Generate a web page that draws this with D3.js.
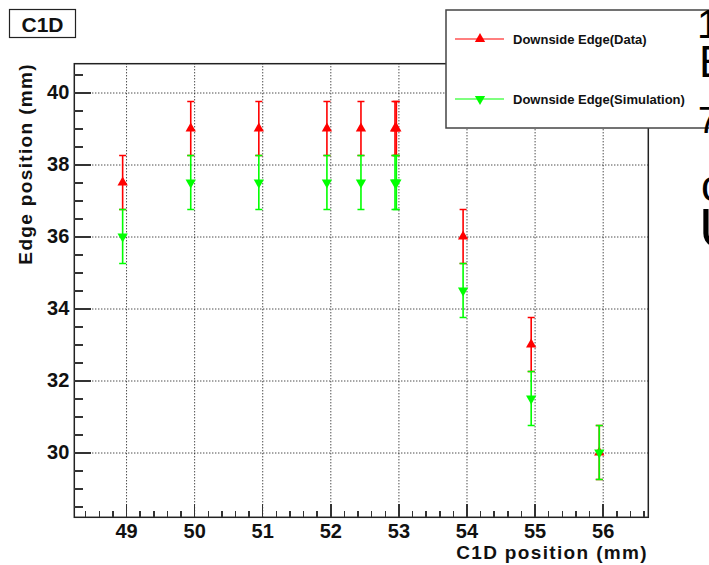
<!DOCTYPE html>
<html>
<head>
  <meta charset="utf-8">
  <script src="https://d3js.org/d3.v7.min.js"></script>
  <style>
    body { margin: 0; background: #fff; }
    svg { display: block; }
    text { font-family: "Liberation Sans", Arial, sans-serif; font-weight: bold; fill: #111; }
    .axis path, .axis line { stroke: #333; stroke-width: 1.5px; shape-rendering: crispEdges; }
    .axis text { font-size: 20px; }
    .grid line { stroke: #000; stroke-width: 1px; stroke-dasharray: 1,2; }
    .grid path { display: none; }
    .title { font-size: 19px; letter-spacing: 1.35px; }
  </style>
</head>
<body>
<div id="plot"></div>
<script>
// C1D scan: downside edge position vs C1D position
var xPos     = [48.95, 49.95, 50.95, 51.95, 52.45, 52.95, 52.97, 53.95, 54.95, 55.95];
var edgeData = [37.5, 39, 39, 39, 39, 39, 39, 36, 33, 30];
var edgeSim  = [36, 37.5, 37.5, 37.5, 37.5, 37.5, 37.5, 34.5, 31.5, 30];
var errData  = [0.75, 0.75, 0.75, 0.75, 0.75, 0.75, 0.75, 0.75, 0.75, 0.75];
var errSim   = [0.75, 0.75, 0.75, 0.75, 0.75, 0.75, 0.75, 0.75, 0.75, 0.75];

var xMajor = [49, 50, 51, 52, 53, 54, 55, 56];
var yMajor = [30, 32, 34, 36, 38, 40];
var seriesNames = ["Downside Edge(Data)", "Downside Edge(Simulation)"];

var W = 709, H = 565;
var frame = {left: 74.3, right: 648.3, top: 63.7, bottom: 517.3};

var svg = d3.select('#plot').append('svg')
  .attr('width', W).attr('height', H);

var x = d3.scaleLinear().domain([48.24, 56.67]).range([frame.left, frame.right]);
var y = d3.scaleLinear().domain([28.2, 40.8]).range([frame.bottom, frame.top]);

var xMinor = d3.range(48.4, 56.7, 0.2).map(function(v){ return +v.toFixed(1); })
  .filter(function(v){ return xMajor.indexOf(v) < 0; });
var yMinor = d3.range(28.5, 40.6, 0.5)
  .filter(function(v){ return yMajor.indexOf(v) < 0; });

// grid
svg.append('g').attr('class', 'grid')
  .attr('transform', 'translate(0,' + frame.bottom + ')')
  .call(d3.axisBottom(x).tickValues(xMajor).tickSize(-(frame.bottom - frame.top)).tickFormat(''));
svg.append('g').attr('class', 'grid')
  .attr('transform', 'translate(' + frame.left + ',0)')
  .call(d3.axisLeft(y).tickValues(yMajor).tickSize(-(frame.right - frame.left)).tickFormat(''));

// frame
svg.append('rect')
  .attr('x', frame.left).attr('y', frame.top)
  .attr('width', frame.right - frame.left).attr('height', frame.bottom - frame.top)
  .attr('fill', 'none').attr('stroke', '#222').attr('stroke-width', 1.5);

// axes (ticks pointing into the frame)
svg.append('g').attr('class', 'x axis')
  .attr('transform', 'translate(0,' + frame.bottom + ')')
  .call(d3.axisBottom(x).tickValues(xMajor).tickSizeInner(-13).tickSizeOuter(0).tickPadding(7))
  .call(function(g){ g.select('.domain').remove(); });
svg.append('g').attr('class', 'x axis')
  .attr('transform', 'translate(0,' + frame.bottom + ')')
  .call(d3.axisBottom(x).tickValues(xMinor).tickSizeInner(-6.5).tickSizeOuter(0).tickFormat(''))
  .call(function(g){ g.select('.domain').remove(); });

svg.append('g').attr('class', 'y axis')
  .attr('transform', 'translate(' + frame.left + ',0)')
  .call(d3.axisLeft(y).tickValues(yMajor).tickSizeInner(-17).tickSizeOuter(0).tickPadding(5))
  .call(function(g){ g.select('.domain').remove(); });
svg.append('g').attr('class', 'y axis')
  .attr('transform', 'translate(' + frame.left + ',0)')
  .call(d3.axisLeft(y).tickValues(yMinor).tickSizeInner(-9).tickSizeOuter(0).tickFormat(''))
  .call(function(g){ g.select('.domain').remove(); });

// axis titles
svg.append('text').attr('class', 'title')
  .attr('x', 648).attr('y', 559)
  .attr('text-anchor', 'end')
  .text('C1D position (mm)');
svg.append('text').attr('class', 'title')
  .attr('transform', 'translate(32,' + 63 + ') rotate(-90)')
  .attr('text-anchor', 'end')
  .text('Edge position (mm)');

// series
var series = [
  {name: seriesNames[0], ys: edgeData, err: errData, color: '#ff0000', rot: 0},
  {name: seriesNames[1], ys: edgeSim, err: errSim, color: '#00ff00', rot: 180}
];
var tri = d3.symbol().type(d3.symbolTriangle).size(46);

series.forEach(function(s){
  var pts = xPos.map(function(v, i){ return {x: v, y: s.ys[i], e: s.err[i]}; });
  var g = svg.append('g');
  g.selectAll('.bar').data(pts).enter().append('line')
    .attr('x1', function(d){ return x(d.x); }).attr('x2', function(d){ return x(d.x); })
    .attr('y1', function(d){ return y(d.y - d.e); }).attr('y2', function(d){ return y(d.y + d.e); })
    .attr('stroke', s.color).attr('stroke-width', 1.6);
  [-1, 1].forEach(function(sign){
    g.selectAll('.cap' + sign).data(pts).enter().append('line')
      .attr('x1', function(d){ return x(d.x) - 3.5; }).attr('x2', function(d){ return x(d.x) + 3.5; })
      .attr('y1', function(d){ return y(d.y + sign * d.e); }).attr('y2', function(d){ return y(d.y + sign * d.e); })
      .attr('stroke', s.color).attr('stroke-width', 1.5);
  });
  g.selectAll('.mk').data(pts).enter().append('path')
    .attr('d', tri)
    .attr('transform', function(d){ return 'translate(' + x(d.x) + ',' + y(d.y) + ') rotate(' + s.rot + ')'; })
    .attr('fill', s.color);
});

// title box
svg.append('rect').attr('x', 9.5).attr('y', 9.5).attr('width', 66).attr('height', 28)
  .attr('fill', '#fff').attr('stroke', '#222').attr('stroke-width', 1.2);
svg.append('text').attr('x', 42.5).attr('y', 31.5).attr('text-anchor', 'middle')
  .style('font-size', '21px').text('C1D');

// legend
var leg = svg.append('g');
leg.append('rect').attr('x', 446).attr('y', 10).attr('width', 270).attr('height', 118)
  .attr('fill', '#fff').attr('stroke', '#444').attr('stroke-width', 1.5);
var legRows = leg.selectAll('.lr').data(series).enter().append('g')
  .attr('transform', function(d, i){ return 'translate(0,' + (39 + i * 60) + ')'; });
legRows.append('line').attr('x1', 455).attr('x2', 504).attr('y1', 0).attr('y2', 0)
  .attr('stroke', function(d){ return d.color; }).attr('stroke-width', 1.2);
legRows.append('path').attr('d', tri)
  .attr('transform', function(d){ return 'translate(480,0) rotate(' + d.rot + ')'; })
  .attr('fill', function(d){ return d.color; });
legRows.append('text').attr('x', 513).attr('y', 4.5)
  .style('font-size', '13px')
  .text(function(d){ return d.name; });

// slide text cut off at the right edge
var side = svg.append('g').style('font-family', '"DejaVu Sans", sans-serif');
[["1", 697, 38, 40], ["E", 699, 77, 44], ["7", 698, 133, 36], ["c", 701, 201, 44], ["U", 699, 247, 56]].forEach(function(c){
  side.append('text').attr('x', c[1]).attr('y', c[2])
    .style('font-size', c[3] + 'px').style('font-weight', 'normal').style('fill', '#000')
    .text(c[0]);
});
</script>
</body>
</html>
